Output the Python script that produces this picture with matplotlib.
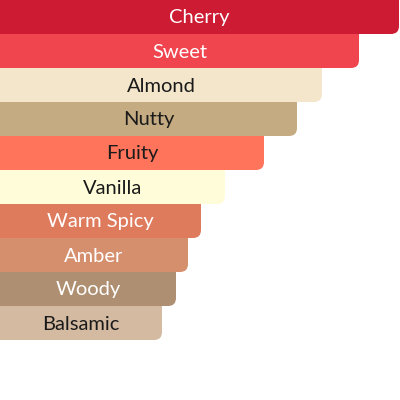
import matplotlib.pyplot as plt
from matplotlib.patches import FancyBboxPatch

# notes in top-to-bottom order
notes = ["Cherry", "Sweet", "Almond", "Nutty", "Fruity",
         "Vanilla", "Warm Spicy", "Amber", "Woody", "Balsamic"]
values = [399, 359, 322, 297, 264, 225, 201, 188, 176, 162]
colors = ["#CC1B33", "#F0444E", "#F3E6CB", "#C4AB81", "#FF745B",
          "#FFFDD9", "#DF7B5D", "#D68F6D", "#AE8F71", "#D3BAA1"]
text_colors = ["white", "white", "#1a1a1a", "#1a1a1a", "#1a1a1a",
               "#1a1a1a", "white", "white", "white", "#1a1a1a"]

bar_h = 34
radius = 8

fig = plt.figure(figsize=(4, 4), dpi=100)
ax = fig.add_axes([0, 0, 1, 1])
ax.set_xlim(0, 400)
ax.set_ylim(400, 0)
ax.axis("off")

# draw bottom bar first so each upper bar hides the top corner of the one below
for i in range(len(notes) - 1, -1, -1):
    top = i * bar_h
    box = FancyBboxPatch((-20, top - 12), values[i] + 20, bar_h + 12,
                         boxstyle=f"round,pad=0,rounding_size={radius}",
                         facecolor=colors[i], edgecolor="none")
    ax.add_patch(box)
    ax.text(values[i] / 2, top + bar_h / 2 + 1, notes[i], ha="center", va="center",
            fontsize=14.5, family="Lato", color=text_colors[i])

fig.savefig("out.png", dpi=100)
